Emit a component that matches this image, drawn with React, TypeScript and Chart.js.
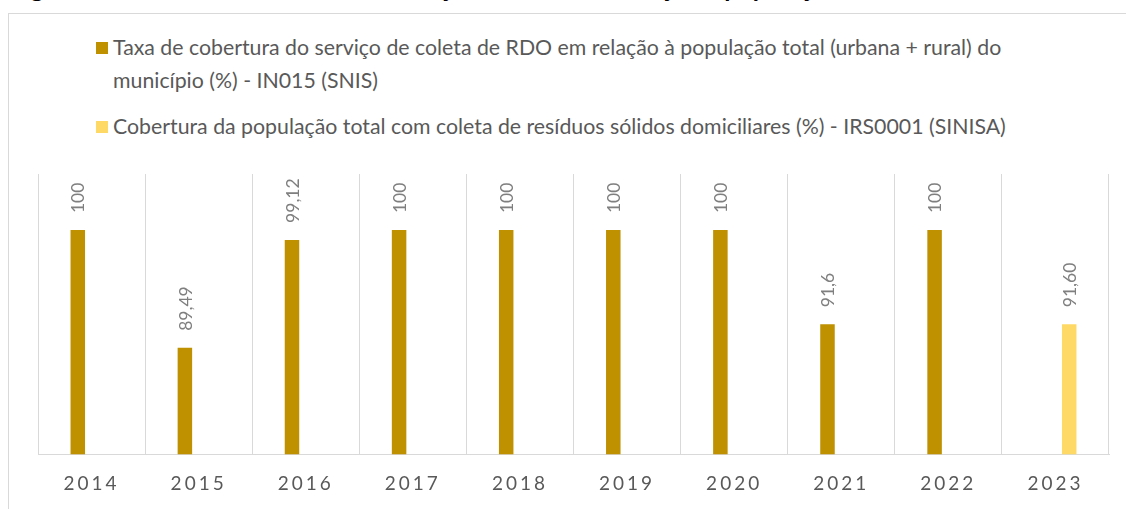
import React, { useEffect, useRef } from "react";
import { Chart, registerables } from "chart.js";

Chart.register(...registerables);

const years = ["2014", "2015", "2016", "2017", "2018", "2019", "2020", "2021", "2022", "2023"];
const snisValues = [100, 89.49, 99.12, 100, 100, 100, 100, 91.6, 100, null];
const sinisaValues = [null, null, null, null, null, null, null, null, null, 91.6];
const snisLabel =
  "Taxa de cobertura do serviço de coleta de RDO em relação à população total (urbana + rural) do município (%) - IN015 (SNIS)";
const sinisaLabel =
  "Cobertura da população total com coleta de resíduos sólidos domiciliares (%) - IRS0001 (SINISA)";
const figureTitle =
  "Figura 3.3 – Taxa de cobertura do serviço de coleta em relação à população total";
const yMin = 80;
const yMax = 105;

const SNIS_COLOR = "#BF9000";
const SINISA_COLOR = "#FFD966";
const FONT = "Lato, 'Open Sans', sans-serif";

const valueLabels = {
  id: "valueLabels",
  beforeDraw(chart: any) {
    chart.ctx.letterSpacing = "3px";
  },
  beforeDatasetsDraw(chart: any) {
    chart.ctx.letterSpacing = "0px";
  },
  afterDatasetsDraw(chart: any) {
    const ctx = chart.ctx;
    chart.data.datasets.forEach((ds: any, di: number) => {
      const meta = chart.getDatasetMeta(di);
      meta.data.forEach((bar: any, i: number) => {
        const v = ds.data[i];
        if (v == null) return;
        const text = di === 0 ? String(v).replace(".", ",") : Number(v).toFixed(2).replace(".", ",");
        ctx.save();
        ctx.letterSpacing = "0px";
        ctx.translate(bar.x + 1, bar.y - 17);
        ctx.rotate(-Math.PI / 2);
        ctx.font = `17.5px ${FONT}`;
        ctx.fillStyle = "#7F7F7F";
        ctx.textAlign = "left";
        ctx.textBaseline = "middle";
        ctx.fillText(text, 0, 0);
        ctx.restore();
      });
    });
  },
};

function LegendItem({ color, text, top }: { color: string; text: string; top: number }) {
  return (
    <div
      style={{
        position: "absolute",
        left: 96,
        top,
        display: "flex",
        alignItems: "flex-start",
      }}
    >
      <div style={{ width: 12, height: 12, background: color, marginTop: 10.5, marginRight: 5, flex: "none" }} />
      <div style={{ font: `21.3px ${FONT}`, lineHeight: "33px", color: "#595959", width: 935 }}>{text}</div>
    </div>
  );
}

export default function App() {
  const canvasRef = useRef<HTMLCanvasElement | null>(null);

  useEffect(() => {
    if (!canvasRef.current) return;
    const chart = new Chart(canvasRef.current, {
      type: "bar",
      data: {
        labels: years,
        datasets: [
          {
            label: snisLabel,
            data: snisValues,
            backgroundColor: SNIS_COLOR,
            categoryPercentage: 0.514,
            barPercentage: 0.527,
          },
          {
            label: sinisaLabel,
            data: sinisaValues,
            backgroundColor: SINISA_COLOR,
            categoryPercentage: 0.514,
            barPercentage: 0.527,
          },
        ],
      },
      options: {
        animation: false,
        responsive: false,
        maintainAspectRatio: false,
        layout: { padding: { left: 38, right: 17, top: 24, bottom: 12 } },
        plugins: {
          legend: { display: false },
          tooltip: { enabled: false },
          title: { display: false },
        },
        scales: {
          x: {
            offset: true,
            grid: { color: "#D9D9D9", lineWidth: 1, drawTicks: false, offset: true },
            border: { color: "#D9D9D9", width: 1 },
            ticks: {
              color: "#595959",
              font: { family: FONT, size: 19 },
              padding: 18,
              maxRotation: 0,
              autoSkip: false,
            },
          },
          y: {
            display: false,
            min: yMin,
            max: yMax,
          },
        },
      },
      plugins: [valueLabels],
    });
    return () => chart.destroy();
  }, []);

  return (
    <div style={{ position: "absolute", left: 0, top: 0, width: 1126, height: 509, overflow: "hidden", background: "#fff" }}>
      <div
        style={{
          position: "absolute",
          left: 10,
          top: -25,
          font: `bold 25px ${FONT}`,
          lineHeight: "25px",
          color: "#000",
          whiteSpace: "nowrap",
        }}
      >
        {figureTitle}
      </div>
      <div
        style={{
          position: "absolute",
          left: 8,
          top: 13,
          width: 1140,
          height: 520,
          border: "1px solid #D9D9D9",
          boxSizing: "border-box",
        }}
      />
      <LegendItem color={SNIS_COLOR} text={snisLabel} top={31} />
      <LegendItem color={SINISA_COLOR} text={sinisaLabel} top={110} />
      <canvas
        ref={canvasRef}
        width={1126}
        height={375}
        style={{ position: "absolute", left: 0, top: 150, width: 1126, height: 375 }}
      />
    </div>
  );
}
